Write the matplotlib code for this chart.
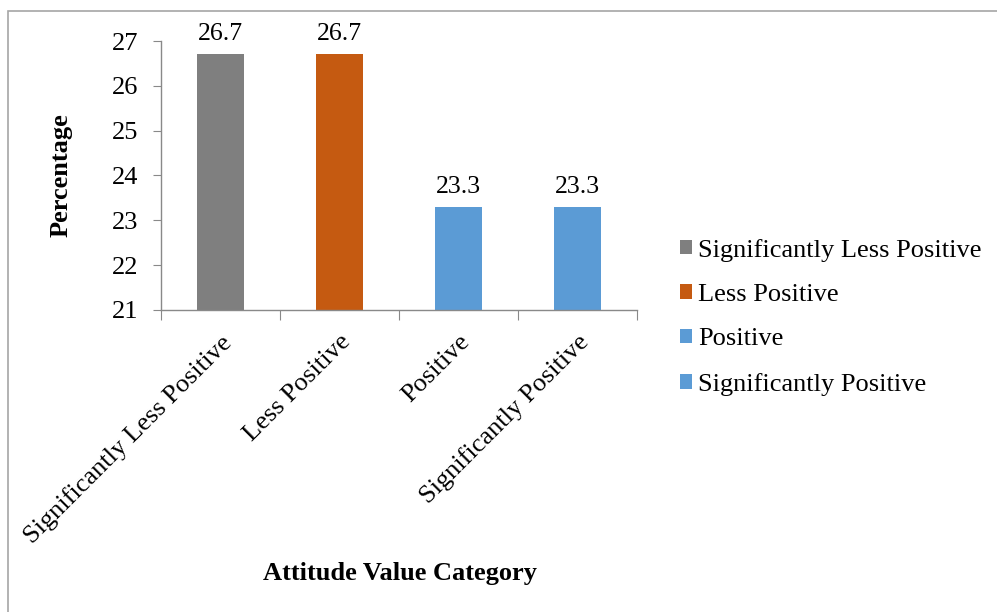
import matplotlib.pyplot as plt
from matplotlib.patches import Rectangle

# Data:

categories = ['Significantly Less Positive', 'Less Positive', 'Positive', 'Significantly Positive']
percentages = [26.7, 26.7, 23.3, 23.3]
bar_colors = ['#7f7f7f', '#c55a11', '#5b9bd5', '#5b9bd5']
y_ticks = [21, 22, 23, 24, 25, 26, 27]

# Plotting:

plt.rcParams['font.family'] = ['Liberation Serif', 'DejaVu Serif']
fs = 19

fig = plt.figure(figsize=(9.97, 6.12), dpi=100)
ax = fig.add_axes([0.1615, 0.4935, 0.4775, 0.4395])

x = range(len(categories))
bars = ax.bar(x, percentages, width=0.4, color=bar_colors, label=categories, zorder=2)

for xi, v in zip(x, percentages):
    ax.text(xi, v + 0.2, f'{v:.1f}', ha='center', va='bottom', fontsize=18.5, clip_on=False)

ax.set_ylim(21, 27)
ax.set_xlim(-0.5, len(categories) - 0.5)
ax.set_yticks(y_ticks)
ax.tick_params(axis='y', labelsize=fs, length=6, color='#898989', pad=10.5)

ax.set_xticks([i - 0.5 for i in range(len(categories) + 1)], minor=False)
ax.set_xticklabels([])
ax.set_xticks(list(x), minor=True)
ax.set_xticklabels(categories, minor=True, rotation=45, ha='right', rotation_mode='anchor', fontsize=fs)
ax.tick_params(axis='x', which='major', length=7, color='#898989')
ax.tick_params(axis='x', which='minor', length=0, pad=15)

for side in ['top', 'right']:
    ax.spines[side].set_visible(False)
for side in ['left', 'bottom']:
    ax.spines[side].set_color('#898989')
    ax.spines[side].set_linewidth(1.0)

ax.set_ylabel('Percentage', fontsize=fs, fontweight='bold', labelpad=28)
fig.text(0.401, 0.063, 'Attitude Value Category', ha='center', va='center', fontsize=fs, fontweight='bold')

leg = fig.legend(handles=bars, labels=categories, loc='upper left', bbox_to_anchor=(0.658, 0.649),
                 frameon=False, fontsize=fs, handlelength=0.45, handleheight=0.45, handletextpad=0.25,
                 labelspacing=0.85)

fig.patches.append(Rectangle((8 / 997, -0.05), 1.1, 1 - 11 / 612 + 0.05, transform=fig.transFigure,
                             fill=False, edgecolor='#a6a6a6', linewidth=1.2))

plt.savefig('out.png', dpi=100)
